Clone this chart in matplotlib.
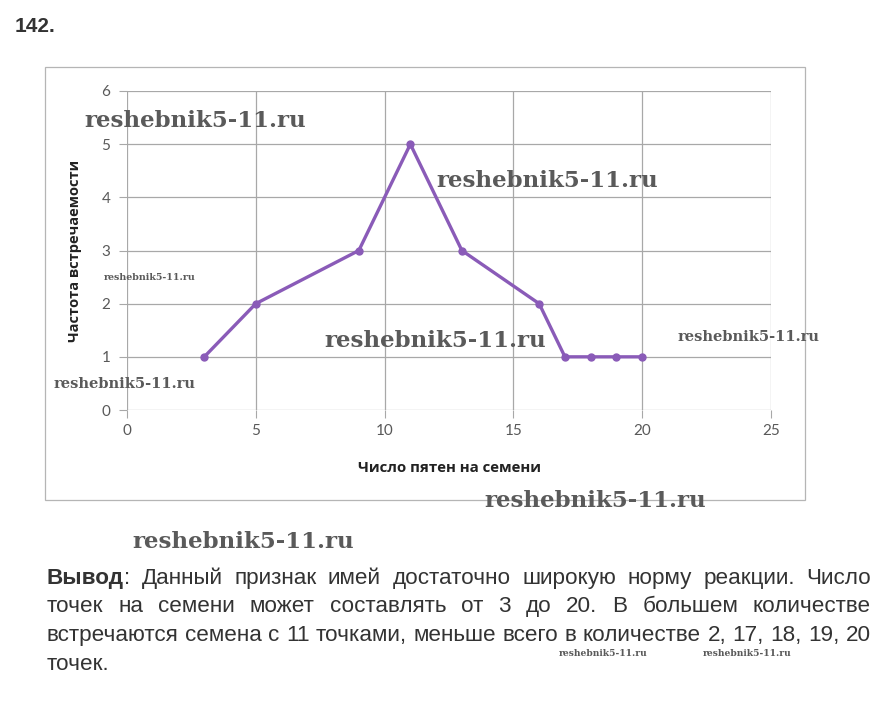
import matplotlib
matplotlib.use("Agg")
import matplotlib.pyplot as plt
from matplotlib.patches import Rectangle

# data
spots = [3, 5, 9, 11, 13, 16, 17, 18, 19, 20]
freq = [1, 2, 3, 5, 3, 2, 1, 1, 1, 1]
x_ticks = [0, 5, 10, 15, 20, 25]
y_ticks = [0, 1, 2, 3, 4, 5, 6]

title_num = "142."
x_label = "Число пятен на семени"
y_label = "Частота встречаемости"
conclusion_lines = [
    [("Вывод", "bold"), (": Данный признак имей достаточно широкую норму реакции. Число", "normal")],
    [("точек на семени может составлять от 3 до 20. В большем количестве", "normal")],
    [("встречаются семена с 11 точками, меньше всего в количестве 2, 17, 18, 19, 20", "normal")],
    [("точек.", "normal")],
]
watermark = "reshebnik5-11.ru"
# (x px, y px, size pt)
wm_spots = [(195, 121, 16.5), (547, 181, 16.5), (150, 278, 6.8), (435, 341, 16.5),
            (749, 337, 10.5), (125, 384, 10.5), (595, 501, 16.5), (243, 542, 16.5),
            (603, 653, 6.6), (747, 653, 6.6)]

W, H = 882, 727
fig = plt.figure(figsize=(W / 100, H / 100), dpi=100)
fig.patch.set_facecolor("white")


def fx(px):
    return px / W


def fy(py):
    return 1 - py / H


# chart frame
fig.patches.append(Rectangle((fx(45), fy(500)), fx(805) - fx(45), fy(67) - fy(500),
                             transform=fig.transFigure, fill=False,
                             edgecolor="#b5b5b5", linewidth=0.9))

ax = fig.add_axes([fx(127), fy(410), fx(771) - fx(127), fy(91) - fy(410)])
ax.set_xlim(0, 25)
ax.set_ylim(0, 6)
ax.set_xticks(x_ticks)
ax.set_yticks(y_ticks)
ax.grid(True, color="#a8a8a8", linewidth=0.9)
ax.set_axisbelow(True)
for s in ax.spines.values():
    s.set_visible(False)
ax.tick_params(length=6, color="#a8a8a8", labelcolor="#595959", labelsize=11)
for lab in ax.get_xticklabels() + ax.get_yticklabels():
    lab.set_family("Lato")
ax.tick_params(axis="x", pad=4)
ax.tick_params(axis="y", pad=6)

ax.plot(spots, freq, color="#8a5bb8", linewidth=2.4, marker="o", markersize=5,
        markerfacecolor="#8a5bb8", markeredgecolor="#8a5bb8", clip_on=False, zorder=3)

ax.set_xlabel(x_label, family="Open Sans", fontweight="bold", fontsize=10.8, color="#222222", labelpad=17)
ax.set_ylabel(y_label, family="Open Sans", fontweight="bold", fontsize=10.5, color="#222222", labelpad=14)

fig.text(fx(15), fy(32), title_num, family="Liberation Sans", fontweight="bold",
         fontsize=15, color="#333333", va="baseline", ha="left")

# conclusion text, justified by hand
renderer = fig.canvas.get_renderer()
txt_font = "Liberation Sans"
left, right = 47, 871
base_y = [584, 612, 641, 670]


def text_width(s, size, weight="normal"):
    t = fig.text(0, 0, s, family=txt_font, fontsize=size, fontweight=weight)
    w = t.get_window_extent(renderer).width
    t.remove()
    return w


# third line is set without extra spacing in the original: fit the size to it
txt_size = 14 * (right - left) / text_width(conclusion_lines[2][0][0], 14)
space = text_width("a a", txt_size) - text_width("aa", txt_size)

for i, line in enumerate(conclusion_lines):
    words = []
    for seg, weight in line:
        for j, p in enumerate(seg.split(" ")):
            if p == "":
                continue
            if j == 0 and words:
                words[-1].append((p, weight))
            else:
                words.append([(p, weight)])
    widths = [sum(text_width(p, txt_size, wt) for p, wt in w) for w in words]
    if i < len(conclusion_lines) - 1 and len(words) > 1:
        gap = (right - left - sum(widths)) / (len(words) - 1)
    else:
        gap = space
    x = left
    for w, wd in zip(words, widths):
        xx = x
        for p, weight in w:
            fig.text(fx(xx), fy(base_y[i]), p, family=txt_font, fontsize=txt_size,
                     fontweight=weight, color="#333333", va="baseline", ha="left")
            xx += text_width(p, txt_size, weight)
        x += wd + gap

# watermarks
for px, py, size in wm_spots:
    fig.text(fx(px), fy(py), watermark, family="DejaVu Serif", fontweight="bold",
             fontsize=size, color="#5a5a5a", ha="center", va="center", zorder=10)

fig.savefig("out.png", dpi=100)
